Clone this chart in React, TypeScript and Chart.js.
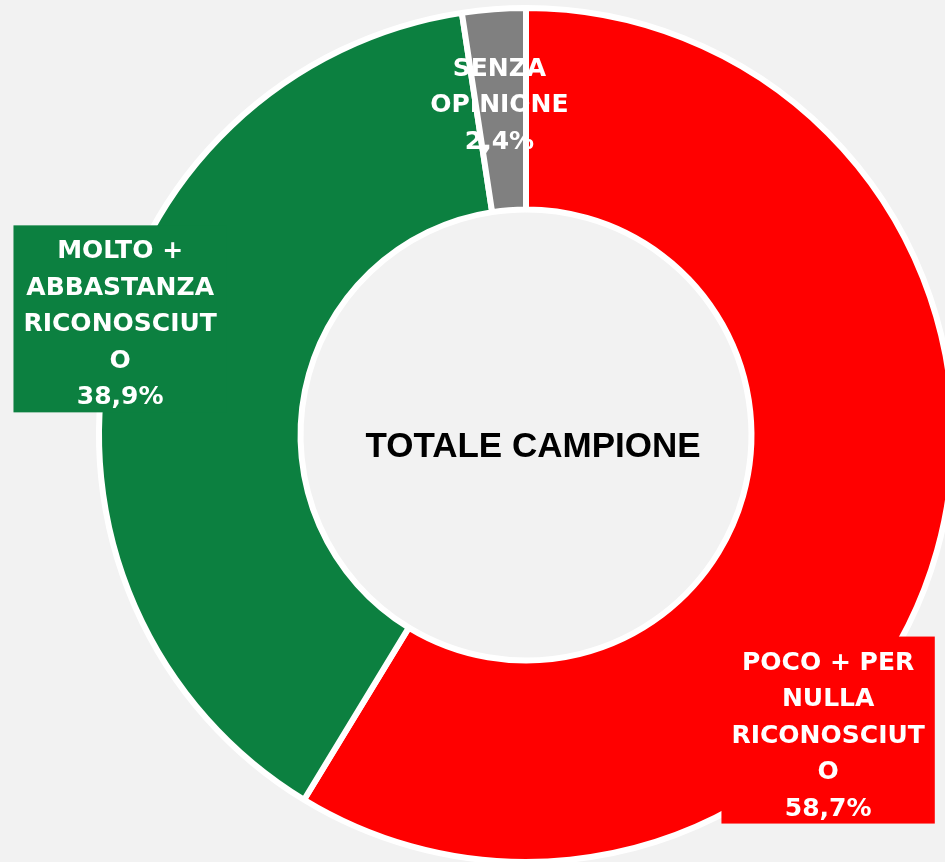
import React, { useEffect, useRef } from "react";
import { Chart, registerables } from "chart.js";

Chart.register(...registerables);

// ---- data ----
const categories: string[][] = [
  ["POCO + PER", "NULLA", "RICONOSCIUT", "O"],
  ["MOLTO +", "ABBASTANZA", "RICONOSCIUT", "O"],
  ["SENZA", "OPINIONE"],
];
const values: number[] = [58.7, 38.9, 2.4];
const centerTitle = "TOTALE CAMPIONE";

// ---- styles / layout ----
const colors: string[] = ["#ff0000", "#0c8040", "#808080"];
const labelBoxed: boolean[] = [true, true, false];
const labelOffsets: number[][] = [
  [-12, 207],
  [-86, -52],
  [-2, -10],
];

const fmt = (v: number) => v.toFixed(1).replace(".", ",") + "%";

const labelPlugin = {
  id: "sliceLabels",
  afterDatasetsDraw(chart: any) {
    const ctx: CanvasRenderingContext2D = chart.ctx;
    const meta = chart.getDatasetMeta(0);
    const lineH = 36.5;
    ctx.save();
    ctx.font = "bold 25px 'DejaVu Sans'";
    ctx.textAlign = "center";
    ctx.textBaseline = "alphabetic";
    meta.data.forEach((arc: any, i: number) => {
      const p = arc.getCenterPoint();
      const cx = p.x + labelOffsets[i][0];
      const cy = p.y + labelOffsets[i][1];
      const lines = [...categories[i], fmt(values[i])];
      const w = Math.max(...lines.map((l) => ctx.measureText(l).width)) + 20;
      const h = lines.length * lineH + 4.5;
      const top = cy - h / 2;
      if (labelBoxed[i]) {
        ctx.fillStyle = colors[i];
        ctx.fillRect(cx - w / 2, top, w, h);
      }
      ctx.fillStyle = "#ffffff";
      lines.forEach((l, j) => ctx.fillText(l, cx, top + 33 + j * lineH));
    });
    const area = chart.chartArea;
    const ccx = (area.left + area.right) / 2 + 7;
    const ccy = (area.top + area.bottom) / 2 + 9;
    ctx.font = "bold 35px 'Liberation Sans'";
    ctx.fillStyle = "#000000";
    ctx.fillText(centerTitle, ccx, ccy + 12.5);
    ctx.restore();
  },
};

export default function App() {
  const ref = useRef<HTMLCanvasElement | null>(null);
  useEffect(() => {
    if (!ref.current) return;
    const chart = new Chart(ref.current, {
      type: "doughnut",
      data: {
        labels: categories,
        datasets: [
          {
            data: values,
            backgroundColor: colors,
            borderColor: "#ffffff",
            borderWidth: 6,
            hoverOffset: 0,
          },
        ],
      },
      options: {
        responsive: false,
        maintainAspectRatio: false,
        devicePixelRatio: 1,
        animation: false,
        events: [],
        cutout: "52.8%",
        rotation: 0,
        layout: { padding: { left: 96, top: 5, right: 144, bottom: 135 } },
        plugins: {
          legend: { display: false },
          tooltip: { enabled: false },
          title: { display: false },
        },
      },
      plugins: [labelPlugin],
    });
    return () => chart.destroy();
  }, []);
  return (
    <div
      style={{
        position: "fixed",
        left: 0,
        top: 0,
        width: 945,
        height: 862,
        overflow: "hidden",
        background: "#f2f2f2",
      }}
    >
      <canvas ref={ref} width={1100} height={1000} style={{ display: "block" }} />
    </div>
  );
}
